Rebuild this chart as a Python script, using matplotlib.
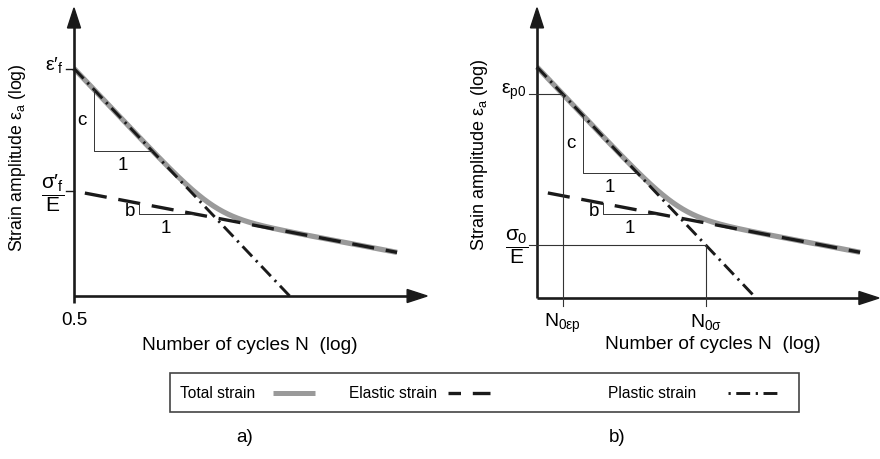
import numpy as np
import matplotlib
matplotlib.use('Agg')
import matplotlib.pyplot as plt
from matplotlib.patches import Polygon, Rectangle

plt.rcParams['font.family'] = ['Liberation Sans', 'DejaVu Sans']
plt.rcParams['mathtext.fontset'] = 'custom'
plt.rcParams['mathtext.rm'] = 'Liberation Sans'
plt.rcParams['mathtext.it'] = 'Liberation Sans'
plt.rcParams['mathtext.bf'] = 'Liberation Sans:bold'
plt.rcParams['lines.scale_dashes'] = False

# strain-life lines in log-log space (decades of 2N / strain from the axis origin)
c_slope = -1.055                 # plastic (Coffin-Manson) exponent
b_slope = -0.19                  # elastic (Basquin) exponent
plastic_icpt = [6.50, 6.60]      # log eps'_f, panels a) and b)
elastic_icpt = [3.00, 3.06]      # log sigma'_f / E
plastic_span = [0.0, 6.17]
elastic_span = [0.31, 9.23]
total_span = [0.0, 9.23]

# slope triangles: (x of vertical leg, x where horizontal leg meets the line)
c_tri = [(0.57, 2.23), (1.31, 2.86)]
b_tri = [(1.86, 3.40), (1.89, 3.40)]

# panel b) reference levels
eps_p0_log = 5.83
sig0_E_log = 1.51

ytick_labels_a = ["ε′$_\\mathregular{f}$", "$\\dfrac{\\mathregular{σ′_f}}{E}$"]
ytick_labels_b = [r"$\varepsilon_{p0}$", r"$\dfrac{\sigma_0}{E}$"]
ylabel = r"Strain amplitude $\varepsilon_a$ (log)"
xlabel = "Number of cycles N  (log)"
legend_labels = ["Total strain", "Elastic strain", "Plastic strain"]

PX = 35.0          # pixels per decade
W, H = 880, 459
FS = 13

GREY = '#9a9a9a'
INK = '#1a1a1a'
THIN = '#333333'

fig = plt.figure(figsize=(W / 100, H / 100), dpi=100)


def make_axes(rect, origin, x0px, x1px):
    ox, oy = origin
    ax = fig.add_axes(rect)
    ax.set_xlim((x0px - ox) / PX, (x1px - ox) / PX)
    ax.set_ylim((oy - H) / PX, oy / PX)
    ax.set_axis_off()
    return ax


def draw_axes_arrows(ax, ytip, xtip, ybot):
    hl, hw = 20 / PX, 6.5 / PX
    ax.plot([0, 0], [ybot, ytip - hl + 0.05], color=INK, lw=1.9,
            solid_capstyle='butt', clip_on=False)
    ax.plot([0, xtip - hl + 0.05], [0, 0], color=INK, lw=1.9,
            solid_capstyle='butt', clip_on=False)
    ax.add_patch(Polygon([(-hw, ytip - hl), (hw, ytip - hl), (0, ytip)],
                         closed=True, color=INK, clip_on=False))
    ax.add_patch(Polygon([(xtip - hl, -hw), (xtip - hl, hw), (xtip, 0)],
                         closed=True, color=INK, clip_on=False))


def draw_curves(ax, k):
    pi, ei = plastic_icpt[k], elastic_icpt[k]
    x = np.linspace(total_span[0], total_span[1], 400)
    tot = np.log10(10 ** (pi + c_slope * x) + 10 ** (ei + b_slope * x))
    ax.plot(x, tot, color=GREY, lw=3.8, solid_capstyle='butt')
    xe = np.array(elastic_span)
    ax.plot(xe, ei + b_slope * xe, color=INK, lw=2.4, dashes=(16, 8.5),
            dash_capstyle='butt')
    xp = np.array(plastic_span)
    ax.plot(xp, pi + c_slope * xp, color=INK, lw=2.1,
            dashes=(10, 4, 1.6, 4), dash_capstyle='butt')


def draw_triangles(ax, k):
    pi, ei = plastic_icpt[k], elastic_icpt[k]
    for (xa, xb), icpt, slope, lab in [(c_tri[k], pi, c_slope, 'c'),
                                        (b_tri[k], ei, b_slope, 'b')]:
        ya = icpt + slope * xa
        yb = icpt + slope * xb
        ax.plot([xa, xa, xb], [ya, yb, yb], color=THIN, lw=0.7)
        if lab == 'c':
            ax.text(xa - 0.2, (ya + yb) / 2, lab, ha='right', va='center',
                    fontsize=FS + 0.5)
        else:
            ax.text(xa - 0.1, yb + 0.05, lab, ha='right', va='center',
                    fontsize=FS + 0.5)
        ax.text((xa + xb) / 2, yb - 0.18, '1', ha='center', va='top',
                fontsize=FS + 0.5)


# ---------------- panel a) ----------------
ax_a = make_axes([0, 0, 0.5, 1], (74, 296), 0, 440)
draw_curves(ax_a, 0)
draw_axes_arrows(ax_a, 8.23, 10.09, -0.2)
draw_triangles(ax_a, 0)
tick = 8 / PX
ya_list = [plastic_icpt[0], elastic_icpt[0]]
for yv in ya_list:
    ax_a.plot([-tick, 0], [yv, yv], color=INK, lw=1.0)
ax_a.text(-0.3, ya_list[0] + 0.1, ytick_labels_a[0], ha='right',
          va='center', fontsize=FS + 1)
ax_a.text(-0.6, ya_list[1] - 0.05, ytick_labels_a[1], ha='center',
          va='center', fontsize=FS + 2)
ax_a.text(0, -0.45, '0.5', ha='center', va='top', fontsize=FS + 0.5)
ax_a.text(-1.6, 3.94, ylabel, rotation=90, ha='center', va='center',
          fontsize=FS - 0.3)
ax_a.text(5.03, -1.4, xlabel, ha='center', va='center', fontsize=FS + 0.8)

# ---------------- panel b) ----------------
ax_b = make_axes([0.5, 0, 0.5, 1], (537, 298), 440, 880)
draw_curves(ax_b, 1)
draw_axes_arrows(ax_b, 8.29, 9.77, 0.0)
draw_triangles(ax_b, 1)
n_ep = (eps_p0_log - plastic_icpt[1]) / c_slope
n_s = (sig0_E_log - plastic_icpt[1]) / c_slope
ax_b.plot([-tick, n_ep, n_ep], [eps_p0_log, eps_p0_log, -tick],
          color=THIN, lw=0.8)
ax_b.plot([-tick, n_s, n_s], [sig0_E_log, sig0_E_log, -tick],
          color=THIN, lw=0.8)
ax_b.text(-0.3, eps_p0_log + 0.05, ytick_labels_b[0], ha='right',
          va='center', fontsize=FS + 1)
ax_b.text(-0.57, sig0_E_log - 0.05, ytick_labels_b[1], ha='center',
          va='center', fontsize=FS + 2)
ax_b.text(n_ep, -0.4, r"$\mathregular{N_{0\varepsilon p}}$", ha='center',
          va='top', fontsize=FS + 1)
ax_b.text(n_s, -0.4, r"$\mathregular{N_{0\sigma}}$", ha='center',
          va='top', fontsize=FS + 1)
ax_b.text(-1.63, 4.1, ylabel, rotation=90, ha='center', va='center',
          fontsize=FS)
ax_b.text(5.03, -1.34, xlabel, ha='center', va='center', fontsize=FS + 0.8)

# ---------------- legend strip and panel tags ----------------
ov = fig.add_axes([0, 0, 1, 1])
ov.set_xlim(0, W)
ov.set_ylim(H, 0)
ov.set_axis_off()
ov.patch.set_alpha(0)
ov.add_patch(Rectangle((170, 373), 629, 39, facecolor='none',
                       edgecolor='#444444', lw=1.2))
ly = 393
text_x = [180, 349, 608]
handle_x = [(273, 315), (448, 490), (728, 782)]
styles = [dict(color=GREY, lw=3.6, solid_capstyle='butt'),
          dict(color=INK, lw=2.4, linestyle=(7, (16, 8.5))),
          dict(color=INK, lw=2.1, linestyle=(14, (10, 4, 1.6, 4)))]
for lab, tx, (h0, h1), st in zip(legend_labels, text_x, handle_x, styles):
    ov.text(tx, ly, lab, ha='left', va='center', fontsize=FS - 1.8)
    ov.plot([h0, h1], [ly, ly], **st)
ov.text(245, 437, 'a)', ha='center', va='center', fontsize=FS + 0.5)
ov.text(617, 437, 'b)', ha='center', va='center', fontsize=FS + 0.5)

fig.savefig('out.png', dpi=100)
